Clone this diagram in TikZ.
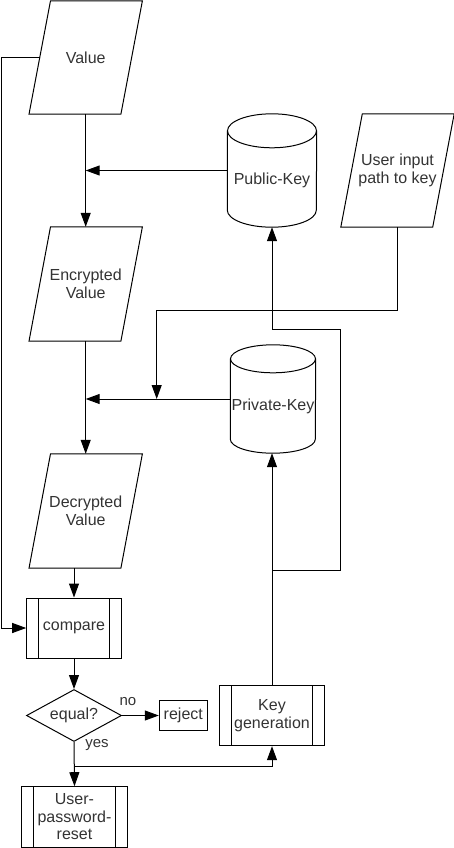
\documentclass[tikz,border=0pt]{standalone}
\usepackage{fontspec}
\setmainfont{Liberation Sans}
\usetikzlibrary{arrows.meta,calc,shapes.geometric}
\definecolor{txt}{RGB}{51,51,51}
\begin{document}
\begin{tikzpicture}[x=1pt,y=-1pt,
  every node/.style={font=\fontsize{16}{17.5}\selectfont, text=txt},
  shp/.style={draw, line width=1pt},
  ln/.style={draw, line width=1pt},
  arr/.style={ln, -{Triangle[length=14pt,width=10pt]}},
  io/.style={minimum width=113pt, minimum height=113pt, inner sep=0pt, align=center},
  cyl/.style={inner sep=0pt, align=center},
  proc/.style={draw, line width=1pt, inner sep=0pt, align=center,
    path picture={\draw[line width=1pt]
      ([xshift=12pt]path picture bounding box.north west) -- ([xshift=12pt]path picture bounding box.south west)
      ([xshift=-12pt]path picture bounding box.north east) -- ([xshift=-12pt]path picture bounding box.south east);}},
  dec/.style={draw, line width=1pt, shape=diamond, aspect=1.83, inner sep=0pt, minimum width=95pt, minimum height=52pt},
  box/.style={draw, line width=1pt, inner sep=0pt, align=center},
  lab/.style={font=\fontsize{15}{17}\selectfont, inner sep=0pt}
]
\useasboundingbox (0,0) rectangle (454,848);

% parallelograms
\node[io] (val) at (85.7,57.5) {Value};
\draw[shp] ($(val.north west)+(21.5,0)$) -- (val.north east) -- ($(val.south east)+(-21.5,0)$) -- (val.south west) -- cycle;
\node[io, minimum height=114pt] (enc) at (85.7,284) {Encrypted\\Value};
\draw[shp] ($(enc.north west)+(21.5,0)$) -- (enc.north east) -- ($(enc.south east)+(-21.5,0)$) -- (enc.south west) -- cycle;
\node[io, minimum height=114pt] (dec) at (85.7,511) {Decrypted\\Value};
\draw[shp] ($(dec.north west)+(21.5,0)$) -- (dec.north east) -- ($(dec.south east)+(-21.5,0)$) -- (dec.south west) -- cycle;
\node[io] (ui) at (397.5,170.5) {User input\\path to key};
\draw[shp] ($(ui.north west)+(21.5,0)$) -- (ui.north east) -- ($(ui.south east)+(-21.5,0)$) -- (ui.south west) -- cycle;

% cylinders
\node[cyl, minimum width=89pt, minimum height=113pt, label={[yshift=-9.5pt]center:Public-Key}] (pub) at (272,170.5) {};
\draw[shp] ([yshift=-17pt]pub.north west) -- ([yshift=17pt]pub.south west)
  arc[start angle=180, end angle=360, x radius=44.5pt, y radius=17pt] -- ([yshift=-17pt]pub.north east);
\draw[shp] ([yshift=-17pt]pub.north) ellipse[x radius=44.5pt, y radius=17pt];

\node[cyl, minimum width=85pt, minimum height=108pt, label={[yshift=-7.7pt]center:Private-Key}] (priv) at (273,399) {};
\draw[shp] ([yshift=-14pt]priv.north west) -- ([yshift=14pt]priv.south west)
  arc[start angle=180, end angle=360, x radius=42.5pt, y radius=14pt] -- ([yshift=-14pt]priv.north east);
\draw[shp] ([yshift=-14pt]priv.north) ellipse[x radius=42.5pt, y radius=14pt];

% processes
\node[proc, minimum width=94.6pt, minimum height=60pt] (cmp) at (74,628) {compare};
\node[dec] (eq) at (74,715.5) {equal?};
\node[box, minimum width=48pt, minimum height=29.6pt] (rej) at (183.3,715.5) {reject};
\node[proc, minimum width=105pt, minimum height=60.4pt] (kg) at (272,715.5) {Key\\generation};
\node[proc, minimum width=105.6pt, minimum height=60.6pt] (upr) at (74.5,817) {User-\\password-\\reset};
\node[lab] (no) at (128,702) {no};
\node[lab] (yes) at (97,745) {yes};

% coordinates
\coordinate (lt) at (1,57.5);
\coordinate (u2) at (156.7,310);
\coordinate (r1) at (340,570);
\coordinate (r2) at (340,329);
\coordinate (ys) at (74,766);

% connectors
\draw[arr] (val.south) -- (enc.north);
\draw[arr] (pub.west) -- (pub.west -| val.south);
\draw[arr] (enc.south) -- (dec.north);
\draw[arr] (priv.west) -- (priv.west -| enc.south);
\draw[arr] (ui.south) |- (u2) -- (u2 |- priv.west);
\draw[arr] ($(val.west)+(10.75,0)$) -- (lt) |- (cmp.west);
\draw[arr] (cmp.north |- dec.south) -- (cmp.north);
\draw[arr] (cmp.south) -- (eq.north);
\draw[arr] (eq.east) -- (rej.west);
\draw[arr] (eq.south) -- (upr.north);
\draw[arr] (ys) -| (kg.south);
\draw[arr] (kg.north) -- (kg.north |- priv.south);
\draw[arr] (kg.north) |- (r1) -- (r2) -| (pub.south);
\end{tikzpicture}
\end{document}
